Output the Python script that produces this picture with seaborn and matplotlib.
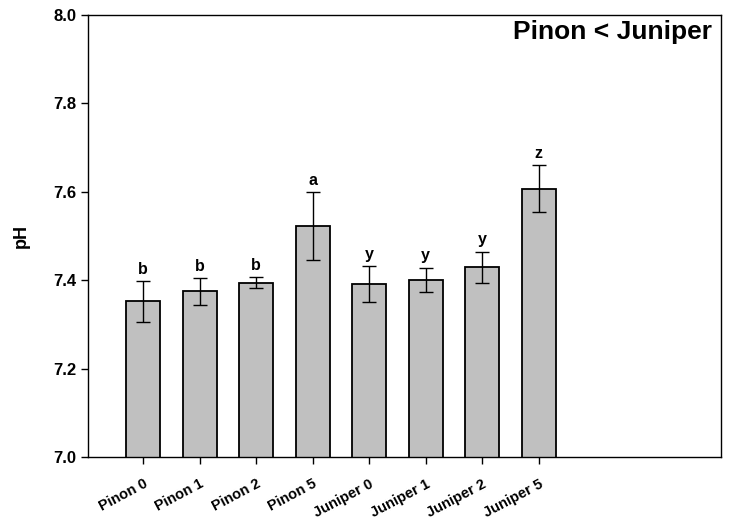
import matplotlib
matplotlib.use("Agg")
import matplotlib.pyplot as plt
import seaborn as sns
import pandas as pd

categories = ["Pinon 0", "Pinon 1", "Pinon 2", "Pinon 5",
              "Juniper 0", "Juniper 1", "Juniper 2", "Juniper 5"]
means = [7.353, 7.375, 7.395, 7.523, 7.392, 7.401, 7.430, 7.607]
errors = [0.046, 0.030, 0.013, 0.076, 0.041, 0.028, 0.035, 0.053]
letters = ["b", "b", "b", "a", "y", "y", "y", "z"]
y_ticks = [7.0, 7.2, 7.4, 7.6, 7.8, 8.0]

sns.set_theme(style="ticks")
plt.rcParams["font.family"] = ["Liberation Sans", "DejaVu Sans"]
plt.rcParams["font.weight"] = "bold"
plt.rcParams["text.color"] = "black"
plt.rcParams["axes.labelcolor"] = "black"

df = pd.DataFrame({"group": categories, "pH": means})

fig = plt.figure(figsize=(7.31, 5.23), dpi=100)
ax = fig.add_axes([0.1208, 0.1256, 0.8651, 0.8457])

sns.barplot(data=df, x="group", y="pH", color="#c0c0c0", saturation=1,
            edgecolor="black", linewidth=1.3, width=0.6, ax=ax, errorbar=None)
ax.errorbar(range(len(means)), means, yerr=errors, fmt="none",
            ecolor="black", elinewidth=1.0, capsize=5, capthick=1.0, zorder=5)

for i, (m, e, l) in enumerate(zip(means, errors, letters)):
    ax.annotate(l, xy=(i, m + e), xytext=(0, 3), textcoords="offset points",
                ha="center", va="bottom", fontsize=11.5, fontweight="bold",
                color="black")

ax.set_ylim(7.0, 8.0)
ax.set_xlim(-0.97, 10.22)
ax.set_yticks(y_ticks)
ax.set_yticklabels([f"{t:.1f}" for t in y_ticks], fontsize=12, fontweight="bold")
ax.set_xticks(range(len(categories)))
ax.set_xticklabels(categories, rotation=28, ha="right", rotation_mode="anchor",
                   fontsize=10.5, fontweight="bold")
ax.tick_params(axis="both", direction="out", length=5, width=1, color="black",
               labelcolor="black")
ax.tick_params(axis="x", pad=9)
ax.set_xlabel("")
ax.set_ylabel("pH", fontsize=13, fontweight="bold", labelpad=17, color="black")
for s in ax.spines.values():
    s.set_visible(True)
    s.set_color("black")
    s.set_linewidth(1.0)

ax.text(0.986, 0.988, "Pinon < Juniper", transform=ax.transAxes, ha="right", va="top",
        fontsize=19, fontweight="bold", color="black")

fig.savefig("out.png", dpi=100)
